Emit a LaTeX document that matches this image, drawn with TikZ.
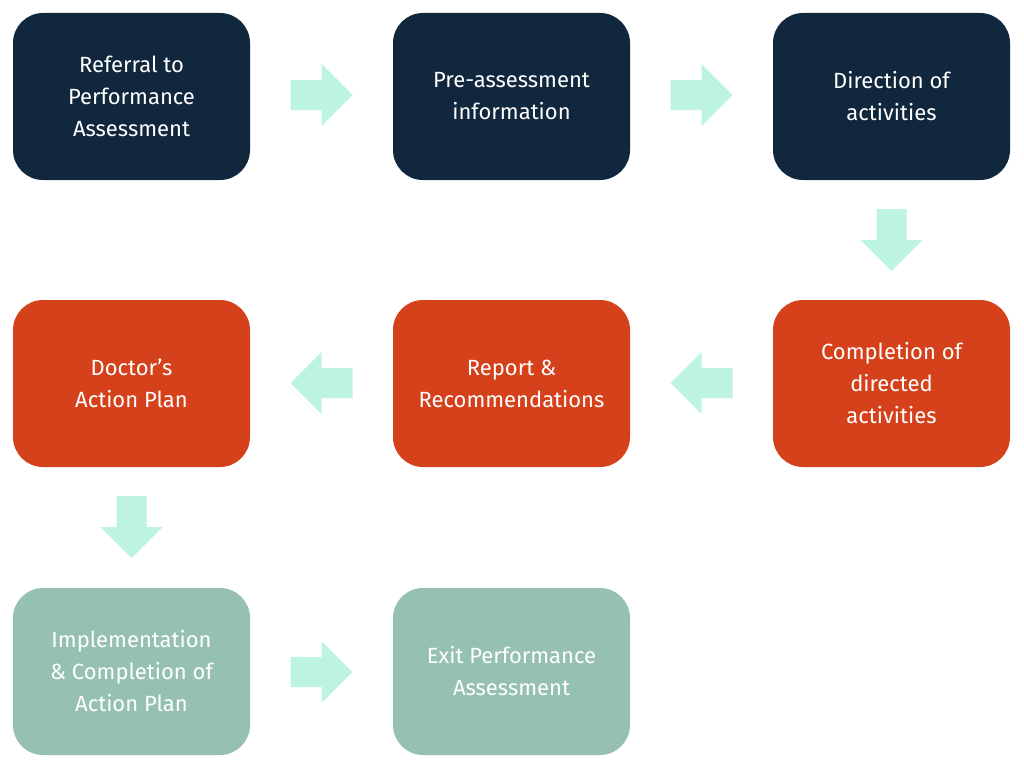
\documentclass[tikz,border=0pt]{standalone}
\usepackage{fontspec}
\setmainfont{Fira Sans}
\begin{document}
\begin{tikzpicture}[x=1pt,y=-1pt,
 box/.style={rounded corners=30pt,minimum width=237pt,minimum height=167pt,align=center,text=white,font=\fontsize{22}{32}\selectfont,inner sep=0pt},
 dark/.style={box,fill=navy},
 red/.style={box,fill=rust},
 sage/.style={box,fill=sagec},
 arr/.style={fill=mint}]
\definecolor{navy}{HTML}{11273D}
\definecolor{rust}{HTML}{D5411B}
\definecolor{sagec}{HTML}{96C1B2}
\definecolor{mint}{HTML}{BDF4E1}
\useasboundingbox (0,0) rectangle (1024,768);
\node[dark] (a) at (131.5,96.5) {Referral to\\Performance\\Assessment};
\node[dark] (b) at (511.5,96.5) {Pre-assessment\\information};
\node[dark] (c) at (891.5,96.5) {Direction of\\activities};
\node[red] (d) at (891.5,383.5) {Completion of\\directed\\activities};
\node[red] (e) at (511.5,383.5) {Report \&\\Recommendations};
\node[red] (f) at (131.5,383.5) {Doctor’s\\Action Plan};
\node[sage] (g) at (131.5,671.5) {Implementation\\\& Completion of\\Action Plan};
\node[sage] (h) at (511.5,671.5) {Exit Performance\\Assessment};
\newcommand{\rar}[2]{\fill[arr,shift={(#1,#2)}] (-31,-15)--(0,-15)--(0,-31)--(31,0)--(0,31)--(0,15)--(-31,15)--cycle;}
\newcommand{\lar}[2]{\fill[arr,shift={(#1,#2)}] (31,-15)--(0,-15)--(0,-31)--(-31,0)--(0,31)--(0,15)--(31,15)--cycle;}
\newcommand{\dar}[2]{\fill[arr,shift={(#1,#2)}] (-15,-31)--(-15,0)--(-31,0)--(0,31)--(31,0)--(15,0)--(15,-31)--cycle;}
\rar{321.5}{95}
\rar{701.5}{95}
\dar{891.5}{240}
\lar{701.5}{383}
\lar{321.5}{383}
\dar{131.5}{527}
\rar{321.5}{672}
\end{tikzpicture}
\end{document}
